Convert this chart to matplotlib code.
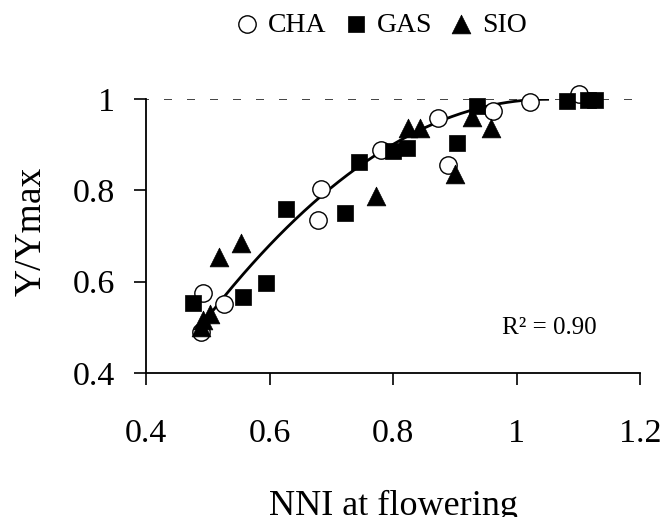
import numpy as np
import matplotlib
matplotlib.use("Agg")
import matplotlib.pyplot as plt

# ---- data ----
cha_x = [0.492, 0.527, 0.489, 0.684, 0.678, 0.781, 0.873, 0.889, 0.962, 1.022, 1.101]
cha_y = [0.574, 0.551, 0.490, 0.804, 0.736, 0.889, 0.958, 0.855, 0.974, 0.994, 1.011]

gas_x = [0.476, 0.557, 0.595, 0.627, 0.722, 0.745, 0.800, 0.822, 0.935, 0.904, 1.081, 1.116, 1.127]
gas_y = [0.552, 0.566, 0.596, 0.759, 0.751, 0.862, 0.886, 0.894, 0.985, 0.903, 0.996, 0.999, 0.999]

sio_x = [0.518, 0.553, 0.773, 0.492, 0.503, 0.489, 0.824, 0.843, 0.900, 0.959, 0.928]
sio_y = [0.655, 0.685, 0.787, 0.516, 0.530, 0.501, 0.938, 0.938, 0.835, 0.938, 0.961]

# quadratic-plateau fit: y = a + b*x + c*x^2 for x in [x_start, x_plateau]
fit_a, fit_b, fit_c = -0.742, 3.318, -1.58
fit_x_start, fit_x_plateau = 0.49, 1.05

series_labels = ["CHA", "GAS", "SIO"]
x_ticks = [0.4, 0.6, 0.8, 1.0, 1.2]
x_ticklabels = ["0.4", "0.6", "0.8", "1", "1.2"]
y_ticks = [0.4, 0.6, 0.8, 1.0]
y_ticklabels = ["0.4", "0.6", "0.8", "1"]
r2_text = "R\u00b2 = 0.90"

# ---- figure ----
plt.rcParams['font.family'] = ['Liberation Serif', 'DejaVu Serif']
fig = plt.figure(figsize=(6.61, 5.17), dpi=100)
ax = fig.add_axes([0.2209, 0.279, 0.9687 - 0.2209, 0.808 - 0.279])

ax.set_xlim(0.4, 1.2)
ax.set_ylim(0.4, 1.0)

# dashed reference line at 1
ax.plot([0.4, 1.2], [1.0, 1.0], color='#222222', lw=1.2, ls=(3, (4.8, 9)), zorder=1)

# fitted curve
xf = np.linspace(fit_x_start, fit_x_plateau, 200)
yf = fit_a + fit_b * xf + fit_c * xf ** 2
ax.plot(xf, yf, color='black', lw=2.0, zorder=2)

h1 = ax.scatter(cha_x, cha_y, s=12.5**2, marker='o', facecolors='white', edgecolors='black',
                linewidths=1.0, zorder=3, clip_on=False, label=series_labels[0])
h2 = ax.scatter(gas_x, gas_y, s=11.5**2, marker='s', facecolors='black', edgecolors='black',
                linewidths=0.5, zorder=4, clip_on=False, label=series_labels[1])
h3 = ax.scatter(sio_x, sio_y, s=13.5**2, marker='^', facecolors='black', edgecolors='black',
                linewidths=0.5, zorder=5, clip_on=False, label=series_labels[2])

ax.spines['top'].set_visible(False)
ax.spines['right'].set_visible(False)
for s in ('left', 'bottom'):
    ax.spines[s].set_linewidth(1.3)

ax.set_xticks(x_ticks)
ax.set_xticklabels(x_ticklabels)
ax.set_yticks(y_ticks)
ax.set_yticklabels(y_ticklabels)
ax.tick_params(axis='x', direction='out', length=8.6, width=1.2, pad=24, labelsize=24.5)
ax.tick_params(axis='y', direction='out', length=8.6, width=1.2, pad=14, labelsize=24.5)

ax.set_xlabel("NNI at flowering", fontsize=26, labelpad=30)
ax.set_ylabel("Y/Ymax", fontsize=27)
ax.yaxis.set_label_coords(-0.198, 0.518)

ax.text(0.815, 0.1635, r2_text, transform=ax.transAxes, ha='center', va='center',
        fontsize=18)

leg = fig.legend(handles=[h1, h2, h3], loc='center', bbox_to_anchor=(0.577, 0.952),
                 ncol=3, frameon=False, handlelength=0.8, handletextpad=0.35,
                 columnspacing=0.65, borderpad=0.2, prop={'size': 20})

fig.savefig("out.png", dpi=100)
